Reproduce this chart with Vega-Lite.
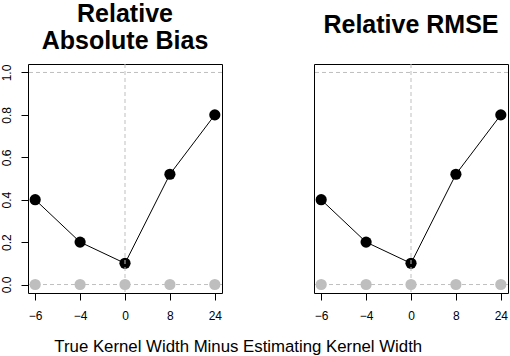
{
  "$schema": "https://vega.github.io/schema/vega-lite/v6.json",
  "background": "white",
  "padding": {"left": -1, "right": 2, "top": 1, "bottom": 4},
  "config": {
    "font": "Liberation Sans",
    "view": {"stroke": "black", "strokeWidth": 1},
    "concat": {"spacing": 90},
    "axis": {"grid": false, "domain": false, "tickColor": "black", "tickSize": 7, "labelColor": "black", "labelFont": "Liberation Sans", "labelFontSize": 12, "title": null}
  },
  "datasets": {
    "bias": [
      {"diff": -6, "value": 0.40, "reference": 0},
      {"diff": -4, "value": 0.20, "reference": 0},
      {"diff": 0, "value": 0.10, "reference": 0},
      {"diff": 8, "value": 0.52, "reference": 0},
      {"diff": 24, "value": 0.80, "reference": 0}
    ],
    "rmse": [
      {"diff": -6, "value": 0.40, "reference": 0},
      {"diff": -4, "value": 0.20, "reference": 0},
      {"diff": 0, "value": 0.10, "reference": 0},
      {"diff": 8, "value": 0.52, "reference": 0},
      {"diff": 24, "value": 0.80, "reference": 0}
    ]
  },
  "title": {"text": "True Kernel Width Minus Estimating Kernel Width", "orient": "bottom", "anchor": "middle", "fontSize": 16.8, "fontWeight": "normal", "color": "black", "font": "Liberation Sans", "offset": 17, "dx": -16},
  "hconcat": [
    {
      "width": 194, "height": 229,
      "title": {"text": ["Relative", "Absolute Bias"], "fontSize": 25, "fontWeight": "bold", "color": "black", "font": "Liberation Sans", "lineHeight": 27, "offset": 10, "anchor": "middle"},
      "data": {"name": "bias"},
      "layer": [
        {"mark": {"type": "line", "color": "black", "strokeWidth": 1},
         "encoding": {
           "x": {"field": "diff", "type": "ordinal", "sort": [-6, -4, 0, 8, 24], "scale": {"type": "point", "padding": 0.16},
                 "axis": {"labelAngle": 0, "labelPadding": 10, "labelExpr": "replace(datum.label, '-', '\u2212')"}},
           "y": {"field": "value", "type": "quantitative", "scale": {"domain": [-0.04, 1.04], "nice": false, "zero": false},
             "axis": {"values": [0, 0.2, 0.4, 0.6, 0.8, 1.0], "format": ".1f", "labelAngle": 270, "labelAlign": "center", "labelBaseline": "bottom", "labelPadding": 8}}}},
        {"mark": {"type": "point", "filled": true, "color": "black", "size": 125, "opacity": 1},
         "encoding": {"x": {"field": "diff", "type": "ordinal"}, "y": {"field": "value", "type": "quantitative"}}},
        {"mark": {"type": "point", "filled": true, "color": "#bebebe", "size": 125, "opacity": 1},
         "encoding": {"x": {"field": "diff", "type": "ordinal"}, "y": {"field": "reference", "type": "quantitative"}}},
        {"data": {"values": [{"level": 0}, {"level": 1}]},
         "mark": {"type": "rule", "color": "#bfbfbf", "strokeDash": [4, 3], "strokeWidth": 1},
         "encoding": {"y": {"field": "level", "type": "quantitative"}}},
        {"data": {"values": [{"diff": 0}]},
         "mark": {"type": "rule", "color": "#bfbfbf", "strokeDash": [4, 3], "strokeWidth": 1},
         "encoding": {"x": {"field": "diff", "type": "ordinal"}}}
      ]
    },
    {
      "width": 194, "height": 229,
      "title": {"text": "Relative RMSE", "fontSize": 25, "fontWeight": "bold", "color": "black", "font": "Liberation Sans", "offset": 26, "anchor": "middle"},
      "data": {"name": "rmse"},
      "layer": [
        {"mark": {"type": "line", "color": "black", "strokeWidth": 1},
         "encoding": {
           "x": {"field": "diff", "type": "ordinal", "sort": [-6, -4, 0, 8, 24], "scale": {"type": "point", "padding": 0.16},
                 "axis": {"labelAngle": 0, "labelPadding": 10, "labelExpr": "replace(datum.label, '-', '\u2212')"}},
           "y": {"field": "value", "type": "quantitative", "scale": {"domain": [-0.04, 1.04], "nice": false, "zero": false}, "axis": null}}},
        {"mark": {"type": "point", "filled": true, "color": "black", "size": 125, "opacity": 1},
         "encoding": {"x": {"field": "diff", "type": "ordinal"}, "y": {"field": "value", "type": "quantitative"}}},
        {"mark": {"type": "point", "filled": true, "color": "#bebebe", "size": 125, "opacity": 1},
         "encoding": {"x": {"field": "diff", "type": "ordinal"}, "y": {"field": "reference", "type": "quantitative"}}},
        {"data": {"values": [{"level": 0}, {"level": 1}]},
         "mark": {"type": "rule", "color": "#bfbfbf", "strokeDash": [4, 3], "strokeWidth": 1},
         "encoding": {"y": {"field": "level", "type": "quantitative"}}},
        {"data": {"values": [{"diff": 0}]},
         "mark": {"type": "rule", "color": "#bfbfbf", "strokeDash": [4, 3], "strokeWidth": 1},
         "encoding": {"x": {"field": "diff", "type": "ordinal"}}}
      ]
    }
  ]
}
